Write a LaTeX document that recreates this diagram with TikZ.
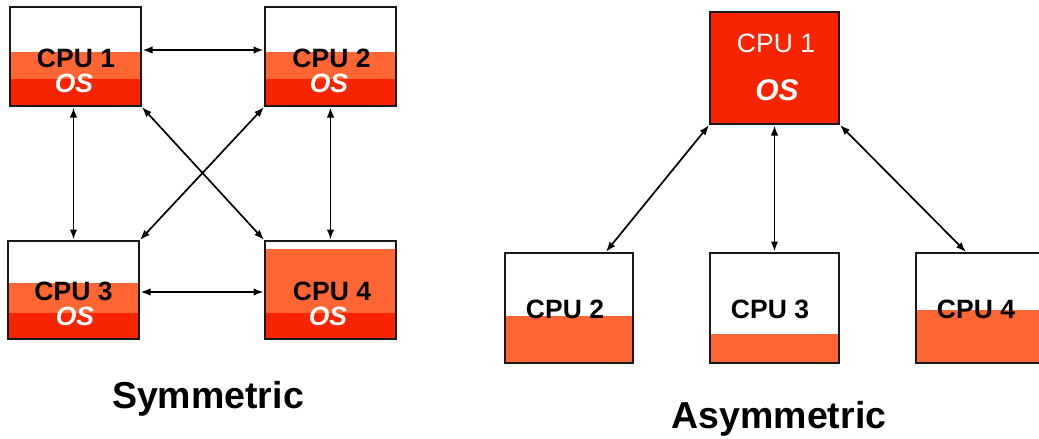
\documentclass[tikz,border=0pt]{standalone}
\usepackage{fontspec}
\setmainfont{Liberation Sans}
\usetikzlibrary{arrows.meta,backgrounds}
\definecolor{orangeC}{RGB}{255,102,51}
\definecolor{redC}{RGB}{248,36,0}
\definecolor{edgeC}{RGB}{25,25,25}
\begin{document}
\begin{tikzpicture}[x=1pt,y=-1pt,
 box/.style={draw=edgeC,line width=2.2pt,inner sep=0pt,outer sep=0pt},
 lbl/.style={anchor=base,inner sep=0pt,font=\fontsize{26.5}{28}\selectfont\bfseries},
 wlbl/.style={anchor=base,inner sep=0pt,text=white,font=\fontsize{26.5}{28}\selectfont},
 oslbl/.style={anchor=base,inner sep=0pt,text=white,font=\fontsize{26.5}{28}\selectfont\bfseries\itshape},
 link/.style={line width=1.7pt,{Latex[length=10pt,width=7.5pt]}-{Latex[length=10pt,width=7.5pt]},shorten >=1.5pt,shorten <=1.5pt},
 title/.style={anchor=base,inner sep=0pt,font=\fontsize{37.5}{40}\selectfont\bfseries}]
\useasboundingbox (0,0) rectangle (1039,439);

% Symmetric boxes
\node[box,minimum width=131pt,minimum height=99pt] (s1) at (75.5,56.5) {};
\node[box,minimum width=131pt,minimum height=99pt] (s2) at (330.5,56.5) {};
\node[box,minimum width=131pt,minimum height=98pt] (s3) at (73.5,290) {};
\node[box,minimum width=131pt,minimum height=98pt] (s4) at (330.5,290) {};
% Asymmetric boxes
\node[box,minimum width=129pt,minimum height=112pt] (a1) at (774.5,68) {};
\node[box,minimum width=128pt,minimum height=110pt] (a2) at (569,308) {};
\node[box,minimum width=129pt,minimum height=110pt] (a3) at (774.5,308) {};
\node[box,minimum width=124pt,minimum height=110pt] (a4) at (978,308) {};

\begin{scope}[on background layer]
  \fill[orangeC] (s1.west |- 0,52) rectangle (s1.south east);
  \fill[redC] (s1.west |- 0,79) rectangle (s1.south east);
  \fill[orangeC] (s2.west |- 0,52) rectangle (s2.south east);
  \fill[redC] (s2.west |- 0,79) rectangle (s2.south east);
  \fill[orangeC] (s3.west |- 0,283) rectangle (s3.south east);
  \fill[redC] (s3.west |- 0,313) rectangle (s3.south east);
  \fill[orangeC] (s4.west |- 0,249) rectangle (s4.south east);
  \fill[redC] (s4.west |- 0,313) rectangle (s4.south east);
  \fill[redC] (a1.north west) rectangle (a1.south east);
  \fill[orangeC] (a2.west |- 0,316) rectangle (a2.south east);
  \fill[orangeC] (a3.west |- 0,334) rectangle (a3.south east);
  \fill[orangeC] (a4.west |- 0,310) rectangle (a4.south east);
\end{scope}

% labels
\node[lbl] (s1t) at (76,67) {CPU 1};
\node[oslbl] (s1o) at (74,92) {OS};
\node[lbl] (s2t) at (331.5,67) {CPU 2};
\node[oslbl] (s2o) at (329,92) {OS};
\node[lbl] (s3t) at (73.5,300) {CPU 3};
\node[oslbl] (s3o) at (75,325) {OS};
\node[lbl] (s4t) at (332,300) {CPU 4};
\node[oslbl] (s4o) at (328,325) {OS};
\node[wlbl] (a1t) at (776,52) {CPU 1};
\node[oslbl,font=\fontsize{30}{32}\selectfont\bfseries\itshape] (a1o) at (777,100) {OS};
\node[lbl] (a2t) at (565,318) {CPU 2};
\node[lbl] (a3t) at (770,318) {CPU 3};
\node[lbl] (a4t) at (976,318) {CPU 4};

% connectors
\draw[link] ([yshift=6.5pt]s1.east) -- ([yshift=6.5pt]s2.west);
\draw[link] ([yshift=-2pt]s3.east) -- ([yshift=-2pt]s4.west);
\draw[link] (s1.south -| s3.north) -- (s3.north);
\draw[link] (s2.south) -- (s4.north);
\draw[link] (s1.south east) -- (s4.north west);
\draw[link] (s2.south west) -- (s3.north east);
\draw[link] (a1.south west) -- ([xshift=36pt]a2.north);
\draw[link] (a1.south) -- (a3.north);
\draw[link] (a1.south east) -- ([xshift=-11pt]a4.north);

% titles
\node[title] (tsym) at (208,408) {Symmetric};
\node[title] (tasym) at (779,428) {Asymmetric};
\end{tikzpicture}
\end{document}
